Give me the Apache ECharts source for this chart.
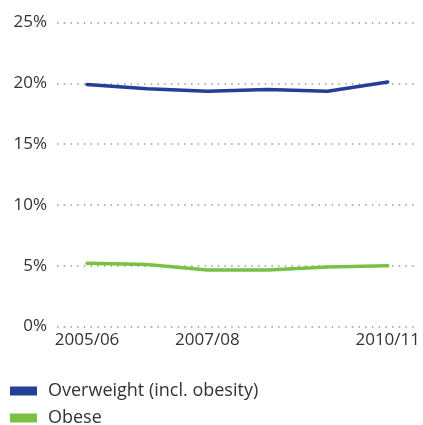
<!DOCTYPE html>
<html>
<head>
<meta charset="utf-8">
<script src="https://cdn.jsdelivr.net/npm/echarts@6/dist/echarts.min.js"></script>
<style>
  html, body { margin: 0; padding: 0; background: #fff; }
  #chart { width: 423px; height: 425px; }
</style>
</head>
<body>
<div id="chart"></div>
<script>
// 数据
var years = ['2005/06', '2006/07', '2007/08', '2008/09', '2009/10', '2010/11'];
var overweight = [19.9, 19.55, 19.35, 19.5, 19.35, 20.1];
var obese = [5.2, 5.1, 4.65, 4.65, 4.9, 5.0];
var shownLabels = [0, 2, 5];

var chart = echarts.init(document.getElementById('chart'));
var font = 'Open Sans';

// 图例：两行，各自一个组件
function legendItem(name, top) {
    return {
        data: [name],
        left: 10,
        top: top,
        padding: 0,
        itemWidth: 27,
        itemHeight: 9,
        icon: 'rect',
        textStyle: { fontFamily: font, fontSize: 18, color: '#333', padding: [0, 0, 0, 6] }
    };
}

var option = {
    animation: false,
    grid: { left: 57, right: 5, top: 22.5, bottom: 98.5 },
    legend: [
        legendItem('Overweight (incl. obesity)', 382),
        legendItem('Obese', 409)
    ],
    xAxis: {
        type: 'category',
        data: years,
        boundaryGap: true,
        axisLine: { show: false },
        axisTick: { show: false },
        axisLabel: {
            interval: function (i) { return shownLabels.indexOf(i) >= 0; },
            margin: 5,
            fontFamily: font,
            fontSize: 17,
            color: '#333'
        }
    },
    yAxis: {
        type: 'value',
        min: 0,
        max: 25,
        interval: 5,
        axisLine: { show: false },
        axisTick: { show: false },
        axisLabel: {
            formatter: '{value}%',
            margin: 10,
            fontFamily: font,
            fontSize: 17,
            color: '#333'
        },
        splitLine: {
            lineStyle: { type: [1.5, 5.2], width: 1.5, color: '#999' }
        }
    },
    series: [
        {
            name: 'Overweight (incl. obesity)',
            type: 'line',
            data: overweight,
            symbol: 'none',
            color: '#233f96',
            lineStyle: { width: 3.5, cap: 'round' }
        },
        {
            name: 'Obese',
            type: 'line',
            data: obese,
            symbol: 'none',
            color: '#7ac143',
            lineStyle: { width: 3.5, cap: 'round' }
        }
    ]
};
chart.setOption(option);
</script>
</body>
</html>
